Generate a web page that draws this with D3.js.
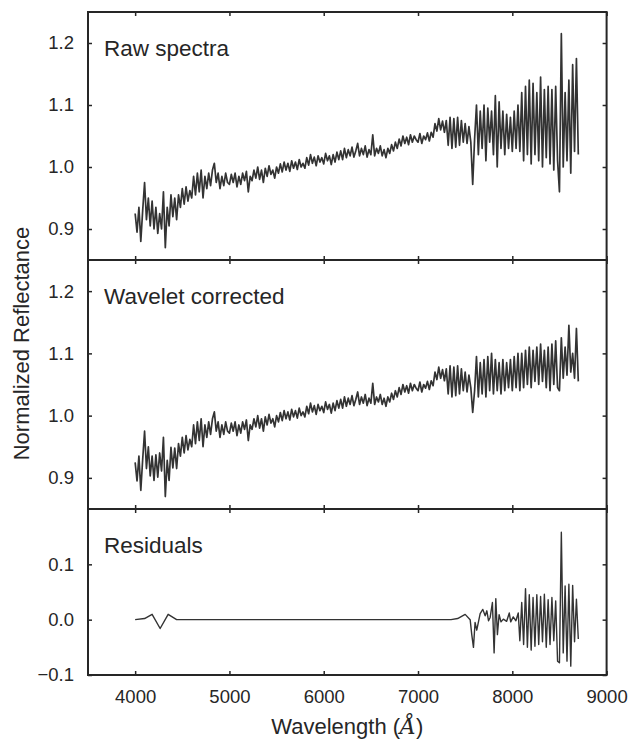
<!DOCTYPE html>
<html><head><meta charset="utf-8">
<script src="https://cdn.jsdelivr.net/npm/d3@7"></script>
<style>
body{margin:0;background:#fff}
text{font-family:"Liberation Sans",Arial,sans-serif;fill:#262626}
</style>
</head><body><svg id="c" width="629" height="740"></svg>
<script>
// ---------- DATA ----------
const wavelength = [
4000,4020,4040,4060,4080, 4100,4120,4140,4160,4180, 4200,4220,4240,4260,4280, 4300,4320,4340,4360,4380,
4400,4420,4440,4460,4480, 4500,4520,4540,4560,4580, 4600,4620,4640,4660,4680, 4700,4720,4740,4760,4780,
4800,4820,4840,4860,4880, 4900,4920,4940,4960,4980, 5000,5020,5040,5060,5080, 5100,5120,5140,5160,5180,
5200,5220,5240,5260,5280, 5300,5320,5340,5360,5380, 5400,5420,5440,5460,5480, 5500,5520,5540,5560,5580,
5600,5620,5640,5660,5680, 5700,5720,5740,5760,5780, 5800,5820,5840,5860,5880, 5900,5920,5940,5960,5980,
6000,6020,6040,6060,6080, 6100,6120,6140,6160,6180, 6200,6220,6240,6260,6280, 6300,6320,6340,6360,6380,
6400,6420,6440,6460,6480, 6500,6520,6540,6560,6580, 6600,6620,6640,6660,6680, 6700,6720,6740,6760,6780,
6800,6820,6840,6860,6880, 6900,6920,6940,6960,6980, 7000,7020,7040,7060,7080, 7100,7120,7140,7160,7180,
7200,7220,7240,7260,7280, 7300,7320,7340,7360,7380, 7400,7420,7440,7460,7480, 7500,7520,7540,7560,7580,
7600,7620,7640,7660,7680, 7700,7720,7740,7760,7780, 7800,7820,7840,7860,7880, 7900,7920,7940,7960,7980,
8000,8020,8040,8060,8080, 8100,8120,8140,8160,8180, 8200,8220,8240,8260,8280, 8300,8320,8340,8360,8380,
8400,8420,8440,8460,8480, 8500,8520,8540,8560,8580, 8600,8620,8640,8660,8680, 8700
];
const rawFlux = [
0.925,0.895,0.935,0.880,0.930, 0.975,0.915,0.950,0.905,0.945, 0.900,0.935,0.893,0.925,0.900, 0.960,0.870,0.935,0.905,0.955,
0.920,0.950,0.915,0.955,0.935, 0.965,0.940,0.968,0.945,0.962, 0.950,0.985,0.955,0.990,0.960, 0.995,0.950,0.985,0.965,0.990,
0.970,0.995,1.006,0.975,0.990, 0.965,0.985,0.970,0.990,0.975, 0.972,0.988,0.975,0.990,0.968, 0.985,0.972,0.990,0.978,0.993,
0.960,0.985,0.978,0.995,0.982, 1.000,0.980,0.995,0.975,0.998, 0.985,1.002,0.988,0.995,0.982, 1.000,0.990,1.005,0.992,1.008,
0.995,1.006,0.993,1.010,0.998, 1.008,0.996,1.012,1.000,1.006, 0.998,1.015,1.003,1.020,1.006, 1.016,1.002,1.018,1.008,1.015,
1.005,1.022,1.010,1.018,1.004, 1.020,1.008,1.024,1.012,1.026, 1.012,1.030,1.015,1.028,1.018, 1.032,1.016,1.026,1.038,1.018,
1.030,1.020,1.034,1.016,1.028, 1.020,1.052,1.018,1.030,1.022, 1.034,1.018,1.028,1.015,1.030, 1.022,1.036,1.026,1.040,1.030,
1.045,1.034,1.050,1.038,1.048, 1.036,1.052,1.040,1.050,1.044, 1.040,1.054,1.038,1.050,1.044, 1.055,1.042,1.056,1.048,1.070,
1.058,1.078,1.060,1.074,1.056, 1.075,1.035,1.080,1.030,1.078, 1.032,1.080,1.035,1.075,1.040, 1.070,1.038,1.065,1.040,0.972,
1.045,1.100,1.020,1.090,1.030, 1.100,1.010,1.095,1.040,1.090, 1.020,1.115,1.000,1.105,1.030, 1.090,1.020,1.085,1.030,1.080,
1.025,1.090,1.030,1.100,1.025, 1.120,1.010,1.130,1.020,1.140, 1.005,1.135,1.020,1.120,1.010, 1.145,1.000,1.125,1.015,1.130,
1.005,1.125,0.995,1.130,1.010, 0.960,1.215,1.000,1.120,1.010, 1.140,0.990,1.165,1.025,1.175, 1.020
];
const correctedFlux = [
0.925,0.895,0.935,0.880,0.930, 0.975,0.915,0.950,0.903,0.935, 0.896,0.937,0.901,0.940,0.911, 0.965,0.870,0.928,0.896,0.949,
0.916,0.948,0.915,0.955,0.935, 0.965,0.940,0.968,0.945,0.962, 0.950,0.985,0.955,0.990,0.960, 0.995,0.950,0.985,0.965,0.990,
0.970,0.995,1.006,0.975,0.990, 0.965,0.985,0.970,0.990,0.975, 0.972,0.988,0.975,0.990,0.968, 0.985,0.972,0.990,0.978,0.993,
0.960,0.985,0.978,0.995,0.982, 1.000,0.980,0.995,0.975,0.998, 0.985,1.002,0.988,0.995,0.982, 1.000,0.990,1.005,0.992,1.008,
0.995,1.006,0.993,1.010,0.998, 1.008,0.996,1.012,1.000,1.006, 0.998,1.015,1.003,1.020,1.006, 1.016,1.002,1.018,1.008,1.015,
1.005,1.022,1.010,1.018,1.004, 1.020,1.008,1.024,1.012,1.026, 1.012,1.030,1.015,1.028,1.018, 1.032,1.016,1.026,1.038,1.018,
1.030,1.020,1.034,1.016,1.028, 1.020,1.052,1.018,1.030,1.022, 1.034,1.018,1.028,1.015,1.030, 1.022,1.036,1.026,1.040,1.030,
1.045,1.034,1.050,1.038,1.048, 1.036,1.052,1.040,1.050,1.044, 1.040,1.054,1.038,1.050,1.044, 1.055,1.042,1.056,1.048,1.070,
1.058,1.078,1.060,1.074,1.056, 1.075,1.035,1.080,1.030,1.078, 1.032,1.080,1.035,1.075,1.040, 1.070,1.038,1.065,1.045,1.005,
1.040,1.095,1.030,1.085,1.035, 1.090,1.030,1.095,1.040,1.100, 1.035,1.090,1.040,1.085,1.035, 1.090,1.040,1.085,1.045,1.090,
1.040,1.095,1.045,1.100,1.040, 1.100,1.045,1.105,1.050,1.110, 1.045,1.105,1.055,1.110,1.050, 1.115,1.055,1.105,1.045,1.110,
1.040,1.115,1.050,1.120,1.045, 1.040,1.125,1.060,1.110,1.065, 1.145,1.070,1.100,1.060,1.140, 1.055
];
const residualWavelength = [
4000,4100,4180,4265,4350,4440,
7350,7420,7500,7553,7570,7588,7605,7623,7659,7687,7712,7730,7748,7765,7789,7807,7825,7842,7860,7880,7905,7940,7968,7983,8010,8038,8063,
8080,8100,8120,8140,8160,8180,8200,8220,8240,8260,8280,8300,8320,8340,8360,8380,8400,8420,8440,8460,8480,8500,8520,8540,8560,8580,8600,8620,8640,8660,8680,8700
];
const residualFlux = [
0,0.002,0.0096,-0.016,0.0096,0,
0,0.002,0.0096,0,-0.027,-0.05,-0.005,-0.019,0.011,0.0186,0.007,0.016,-0.002,0.004,0.031,-0.06,0.038,-0.027,0.009,-0.004,0.001,-0.003,0.012,-0.004,0.005,-0.002,0.012,
-0.038,0.031,-0.045,0.056,-0.050,0.045,-0.055,0.040,-0.048,0.045,-0.045,0.042,-0.040,0.046,-0.050,0.036,-0.045,0.040,-0.038,0.034,-0.075,-0.078,0.158,-0.060,0.061,-0.075,0.064,-0.084,0.062,-0.040,0.037,-0.035
];
const xTicks = [4000,5000,6000,7000,8000,9000];
const spectraTicks = [0.9,1.0,1.1,1.2];
const residualTicks = [-0.1,0.0,0.1];
const panelLabels = ["Raw spectra","Wavelet corrected","Residuals"];

// ---------- LAYOUT ----------
const svg = d3.select("#c");
const left = 88, right = 606.6;
const x = d3.scaleLinear().domain([3500, 9000]).range([left, right]);
const panels = [
  {label: panelLabels[0], top: 12, bottom: 260, domain: [0.85, 1.25], ticks: spectraTicks, xs: wavelength, ys: rawFlux, lw: 1.7},
  {label: panelLabels[1], top: 260, bottom: 509, domain: [0.85, 1.25], ticks: spectraTicks, xs: wavelength, ys: correctedFlux, lw: 1.7},
  {label: panelLabels[2], top: 509, bottom: 675, domain: [-0.1, 0.2], ticks: residualTicks, xs: residualWavelength, ys: residualFlux, lw: 1.4}
];
const ink = "#262626";
const fmt = d3.format(".1f");

panels.forEach((p, i) => {
  const y = d3.scaleLinear().domain(p.domain).range([p.bottom, p.top]);
  const g = svg.append("g");
  const pts = p.xs.map((w, k) => [w, p.ys[k]]);
  g.append("path")
    .datum(pts)
    .attr("fill", "none")
    .attr("stroke", "#333333")
    .attr("stroke-width", p.lw)
    .attr("stroke-linejoin", "round")
    .attr("d", d3.line().x(d => x(d[0])).y(d => y(d[1])));

  const isLast = i === panels.length - 1;
  const ax = (a, tr) => {
    const gg = g.append("g").attr("transform", tr).call(a);
    gg.select(".domain").remove();
    gg.selectAll(".tick line").attr("stroke", ink).attr("stroke-width", 1.5);
    gg.selectAll(".tick text").attr("fill", ink).style("font-size", "18.5px")
      .style("font-family", '"Liberation Sans",Arial,sans-serif');
    return gg;
  };
  ax(d3.axisLeft(y).tickValues(p.ticks).tickSize(-4).tickPadding(14).tickFormat(fmt), `translate(${left},0)`);
  ax(d3.axisRight(y).tickValues(p.ticks).tickSize(-4).tickFormat(""), `translate(${right},0)`);
  ax(d3.axisTop(x).tickValues(xTicks).tickSize(-4).tickFormat(""), `translate(0,${p.top})`);
  ax(d3.axisBottom(x).tickValues(xTicks).tickSize(-4).tickPadding(15).tickFormat(isLast ? d3.format("d") : ""), `translate(0,${p.bottom})`);

  g.append("rect")
    .attr("x", left).attr("y", p.top)
    .attr("width", right - left).attr("height", p.bottom - p.top)
    .attr("fill", "none").attr("stroke", ink).attr("stroke-width", 2);

  g.append("text")
    .attr("x", left + 16).attr("y", p.top + 44)
    .style("font-size", "22.5px")
    .text(p.label);
});

svg.append("text")
  .attr("transform", `translate(21,${(12 + 675) / 2}) rotate(-90)`)
  .attr("text-anchor", "middle")
  .attr("dominant-baseline", "central")
  .style("font-size", "22px")
  .text("Normalized Reflectance");

const xl = svg.append("text")
  .attr("x", (left + right) / 2).attr("y", 734)
  .attr("text-anchor", "middle")
  .style("font-size", "22px");
xl.append("tspan").text("Wavelength (");
xl.append("tspan").style("font-style", "italic").style("font-family", '"DejaVu Serif",serif').text("Å");
xl.append("tspan").text(")");
</script></body></html>
